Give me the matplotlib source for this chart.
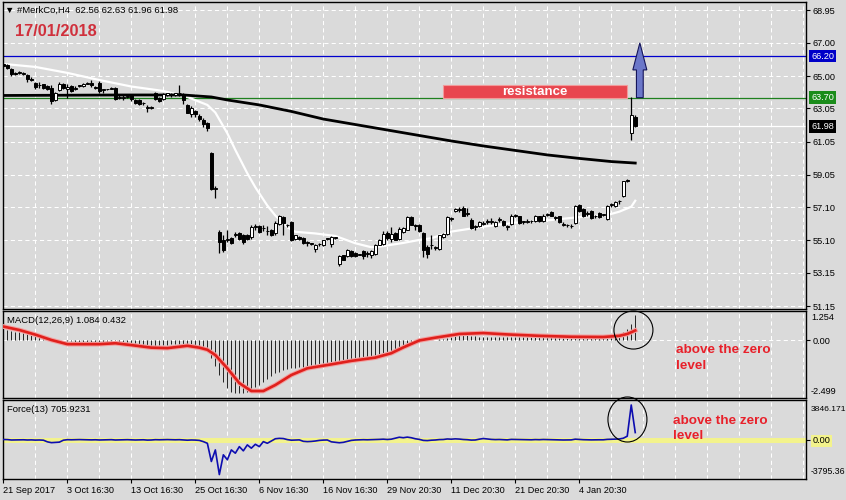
import matplotlib.pyplot as plt
import matplotlib.transforms as mtransforms
from matplotlib.patches import Rectangle, Polygon, Ellipse

plt.rcParams['font.family'] = ['Liberation Sans', 'DejaVu Sans']

W, H = 846, 500
BG = '#DADADA'

# H4 candles, oldest first
opens = [65.72, 65.65, 65.45, 65.20, 65.20, 65.15, 65.05, 64.85, 64.60, 64.45,
         64.50, 64.40, 64.30, 63.55, 64.15, 64.55, 64.20, 64.40, 64.25, 64.40,
         64.40, 64.55, 64.60, 64.35, 64.60, 64.15, 64.20, 64.25, 64.30, 63.70,
         63.70, 63.75, 63.85, 63.55, 63.55, 63.35, 63.10, 63.10, 63.95, 63.70,
         63.60, 63.85, 63.90, 63.85, 63.95, 63.90, 63.25, 62.70, 62.90, 62.60,
         62.35, 62.15, 60.37, 58.20, 55.63, 55.10, 55.10, 55.23, 55.45, 55.53,
         55.43, 55.43, 55.30, 55.90, 55.97, 55.83, 55.65, 55.73, 55.53, 56.10,
         56.53, 56.00, 56.20, 55.20, 55.30, 55.25, 54.95, 54.90, 54.60, 54.87,
         54.85, 55.20, 54.90, 55.25, 53.70, 54.20, 54.15, 54.45, 54.35, 54.25,
         54.45, 54.30, 54.20, 54.30, 54.85, 54.90, 55.55, 55.20, 55.55, 55.20,
         55.60, 55.75, 56.50, 56.05, 56.00, 55.55, 54.70, 54.80, 54.65, 54.60,
         55.30, 55.50, 56.40, 56.85, 56.95, 57.05, 56.70, 56.35, 55.90, 55.95,
         56.10, 56.20, 56.20, 55.95, 56.35, 56.30, 55.90, 56.10, 56.60, 56.55,
         56.20, 56.20, 56.25, 56.25, 56.55, 56.25, 56.65, 56.80, 56.45, 56.55,
         56.05, 56.00, 55.95, 56.15, 57.25, 57.00, 56.70, 56.85, 56.55, 56.75,
         56.65, 56.40, 57.25, 57.20, 57.45, 57.75, 58.70, 61.60, 62.56]
highs = [65.80, 65.72, 65.50, 65.25, 65.30, 65.22, 65.15, 64.92, 64.65, 64.65,
         64.55, 64.45, 64.46, 64.05, 64.65, 64.60, 64.50, 64.45, 64.40, 64.45,
         64.60, 64.65, 64.75, 64.40, 64.70, 64.25, 64.25, 64.35, 64.35, 63.90,
         63.90, 63.85, 63.90, 63.60, 63.60, 63.45, 63.25, 63.20, 64.05, 63.75,
         63.95, 64.00, 64.00, 64.00, 64.46, 64.00, 63.30, 63.20, 62.95, 62.70,
         62.50, 62.25, 60.40, 58.35, 55.70, 55.43, 55.73, 55.30, 55.60, 55.60,
         55.50, 55.50, 56.05, 56.10, 56.05, 56.00, 55.95, 55.80, 56.25, 56.65,
         56.60, 56.10, 56.25, 55.45, 55.35, 55.30, 55.08, 54.95, 54.90, 54.95,
         55.15, 55.25, 55.35, 55.30, 54.25, 54.25, 54.60, 54.50, 54.40, 54.30,
         54.55, 54.45, 54.50, 54.90, 55.20, 55.65, 55.65, 55.90, 55.60, 55.90,
         55.90, 56.55, 56.55, 56.10, 56.10, 55.60, 54.85, 55.40, 54.75, 55.45,
         55.55, 56.55, 56.50, 57.05, 57.10, 57.20, 57.05, 56.45, 56.00, 56.30,
         56.25, 56.40, 56.45, 56.30, 56.50, 56.35, 56.00, 56.70, 56.70, 56.60,
         56.30, 56.40, 56.35, 56.65, 56.60, 56.70, 56.75, 56.90, 56.55, 56.60,
         56.20, 56.10, 56.10, 57.25, 57.30, 57.05, 56.85, 56.95, 56.65, 56.80,
         56.72, 57.25, 57.35, 57.45, 57.55, 58.70, 58.80, 63.76, 62.63]
lows = [65.55, 65.45, 65.00, 65.05, 65.10, 65.08, 64.65, 64.70, 64.25, 64.30,
        64.20, 64.15, 63.30, 63.50, 64.10, 64.25, 63.70, 64.05, 64.15, 64.35,
        64.35, 64.50, 64.35, 64.25, 64.00, 64.00, 64.15, 64.20, 63.55, 63.60,
        63.55, 63.70, 63.50, 63.30, 63.25, 63.25, 62.85, 63.00, 63.55, 63.45,
        63.55, 63.80, 63.75, 63.80, 63.80, 63.30, 62.75, 62.55, 62.55, 62.30,
        61.95, 61.70, 58.15, 57.65, 54.32, 54.42, 55.03, 54.90, 55.30, 55.10,
        54.90, 55.10, 55.20, 55.75, 55.55, 55.65, 55.45, 55.35, 55.40, 56.05,
        55.45, 55.90, 55.05, 55.15, 55.10, 54.90, 54.75, 54.85, 54.40, 54.75,
        54.75, 55.10, 54.70, 55.20, 53.55, 53.90, 54.10, 54.10, 54.10, 54.20,
        54.00, 54.10, 54.05, 54.25, 54.80, 54.85, 55.15, 55.00, 55.10, 55.10,
        55.55, 55.70, 56.00, 55.75, 55.60, 54.12, 54.05, 54.60, 54.55, 54.55,
        55.25, 55.45, 56.30, 56.80, 56.80, 56.55, 56.55, 55.80, 55.75, 55.90,
        56.00, 56.10, 56.10, 55.90, 56.20, 55.95, 55.75, 56.05, 56.50, 56.10,
        56.10, 56.15, 56.15, 56.20, 56.20, 56.20, 56.55, 56.55, 56.35, 56.15,
        55.95, 55.90, 55.85, 56.10, 56.80, 56.50, 56.55, 56.40, 56.45, 56.45,
        56.58, 56.35, 57.10, 57.10, 57.30, 57.70, 58.60, 61.15, 61.96]
closes = [65.60, 65.50, 65.15, 65.10, 65.20, 65.15, 64.80, 64.75, 64.35, 64.45,
          64.30, 64.20, 63.50, 64.00, 64.55, 64.30, 64.35, 64.10, 64.30, 64.40,
          64.50, 64.55, 64.45, 64.30, 64.10, 64.20, 64.20, 64.30, 63.60, 63.70,
          63.75, 63.75, 63.60, 63.40, 63.30, 63.35, 63.10, 63.10, 63.60, 63.50,
          63.90, 63.95, 63.85, 63.95, 63.95, 63.55, 62.80, 63.10, 62.70, 62.40,
          62.10, 61.85, 58.20, 58.20, 55.03, 54.52, 55.17, 54.97, 55.47, 55.17,
          55.03, 55.17, 55.93, 55.90, 55.63, 55.83, 55.65, 55.45, 56.17, 56.57,
          56.13, 56.00, 55.13, 55.40, 55.20, 54.97, 54.95, 54.90, 54.85, 54.87,
          55.10, 55.20, 55.30, 55.25, 54.15, 53.95, 54.50, 54.15, 54.15, 54.25,
          54.15, 54.30, 54.45, 54.80, 55.10, 55.50, 55.25, 55.50, 55.15, 55.80,
          55.85, 56.50, 56.05, 55.95, 55.65, 54.50, 54.30, 54.85, 54.65, 55.40,
          55.50, 56.50, 56.40, 57.00, 56.95, 56.60, 56.75, 55.85, 55.90, 56.20,
          56.10, 56.30, 56.20, 56.20, 56.35, 56.00, 55.90, 56.60, 56.60, 56.15,
          56.20, 56.30, 56.25, 56.55, 56.25, 56.60, 56.65, 56.60, 56.45, 56.20,
          56.05, 56.00, 55.95, 57.20, 56.85, 56.55, 56.70, 56.45, 56.55, 56.50,
          56.65, 57.20, 57.25, 57.40, 57.45, 58.65, 58.70, 62.65, 61.98]

# moving averages (bar index, price)
fast_bars = [0, 8, 16, 24, 32, 40, 46, 49, 51, 53, 56, 58, 61, 63, 66, 68, 71, 73, 78, 83,
             88, 92, 95, 100, 104, 107, 112, 120, 128, 137, 145, 151, 154, 157, 158]
fast_vals = [65.73, 65.55, 65.19, 64.76, 64.37, 64.10, 63.74, 63.45, 63.26, 62.80,
             61.55, 60.55, 59.14, 58.30, 57.20, 56.60, 55.90, 55.62, 55.52, 55.37,
             54.93, 54.69, 54.76, 54.95, 55.13, 55.23, 55.63, 55.93, 56.17, 56.33,
             56.53, 56.63, 56.83, 57.13, 57.49]
slow_bars = [0, 30, 45, 52, 56, 64, 72, 80, 88, 96, 104, 112, 120, 128, 136, 144, 152, 158]
slow_vals = [63.83, 63.86, 63.86, 63.74, 63.56, 63.26, 62.87, 62.41, 62.08, 61.75,
             61.42, 61.09, 60.79, 60.52, 60.25, 60.04, 59.85, 59.76]

# MACD(12,26,9) histogram per bar and signal line
macd_hist = [0.50, 0.45, 0.42, 0.38, 0.35, 0.32, 0.28, 0.25, 0.22, 0.18,
             0.15, 0.12, 0.08, 0.05, 0.03, 0.00, -0.02, -0.04, -0.05, -0.05,
             -0.05, -0.05, -0.05, -0.06, -0.06, -0.06, -0.06, -0.06, -0.08, -0.10,
             -0.12, -0.13, -0.14, -0.16, -0.18, -0.20, -0.22, -0.24, -0.22, -0.21,
             -0.20, -0.18, -0.17, -0.16, -0.14, -0.15, -0.18, -0.20, -0.22, -0.25,
             -0.30, -0.45, -0.75, -1.10, -1.48, -1.80, -2.05, -2.20, -2.25, -2.27,
             -2.25, -2.20, -2.12, -2.00, -1.90, -1.80, -1.65, -1.52, -1.42, -1.35,
             -1.28, -1.24, -1.20, -1.17, -1.15, -1.14, -1.13, -1.12, -1.10, -1.08,
             -1.07, -1.06, -1.04, -1.02, -1.00, -0.97, -0.94, -0.91, -0.88, -0.84,
             -0.80, -0.77, -0.72, -0.66, -0.60, -0.55, -0.50, -0.47, -0.44, -0.40,
             -0.33, -0.25, -0.18, -0.12, -0.06, -0.03, 0.00, 0.02, 0.04, 0.06,
             0.08, 0.12, 0.16, 0.20, 0.22, 0.22, 0.22, 0.20, 0.18, 0.17,
             0.16, 0.16, 0.16, 0.15, 0.16, 0.15, 0.14, 0.15, 0.16, 0.16,
             0.16, 0.16, 0.16, 0.17, 0.17, 0.18, 0.18, 0.19, 0.18, 0.17,
             0.15, 0.14, 0.13, 0.16, 0.18, 0.18, 0.18, 0.17, 0.17, 0.17,
             0.17, 0.20, 0.23, 0.26, 0.30, 0.38, 0.50, 0.70, 1.084]
signal_bars = [0, 4, 8, 12, 16, 24, 28, 32, 37, 41, 46, 49, 51, 53, 56, 59, 62, 65, 68, 72,
               76, 82, 87, 93, 97, 100, 104, 108, 114, 120, 126, 134, 142, 150, 154, 156, 158]
signal_vals = [0.60, 0.45, 0.25, 0.02, -0.16, -0.16, -0.12, -0.20, -0.31, -0.33,
               -0.23, -0.31, -0.40, -0.63, -1.20, -1.84, -2.18, -2.18, -1.92, -1.49,
               -1.20, -1.03, -0.88, -0.74, -0.55, -0.30, 0.00, 0.12, 0.28, 0.32,
               0.26, 0.20, 0.16, 0.15, 0.20, 0.28, 0.43]

# Force(13) per bar
force_vals = [30, 20, -20, -10, 0, 0, -20, -10, -30, -20,
              -40, -200, -280, -260, -230, -40, 10, 0, 10, 20,
              10, 0, -10, 0, -20, -10, 0, 10, -20, -10,
              0, 10, -10, -20, -10, 0, -30, -20, 10, 0,
              10, 20, 10, 0, 10, -10, -40, -20, -30, -60,
              -180, -340, -2120, -990, -3400, -1470, -1950, -990, -1310, -670,
              -1080, -500, -820, -440, -670, -180, -340, -115, 100, 140,
              120, 20, -40, -20, -10, -150, -180, -160, -120, -60,
              -30, -20, -200, -250, -290, -250, -150, -60, -20, 0,
              10, 0, 10, 20, 40, 60, 30, 60, 150, 250,
              200, 260, 200, 100, 40, -60, -80, -40, -20, 20,
              30, 80, 60, 90, 70, 30, 10, -30, -20, 60,
              120, 80, 40, 20, 30, 10, -10, 40, 30, 10,
              0, 10, 0, 20, 10, 30, 20, 10, 0, -10,
              -20, -10, -10, 60, 30, 10, 0, -10, 0, 0,
              0, 40, 50, 60, 80, 150, 350, 3400, 706]

price_ticks = [68.95, 67.00, 65.00, 63.05, 61.05, 59.05, 57.10, 55.10, 53.15, 51.15]
date_ticks = [0, 16, 32, 48, 64, 80, 96, 112, 128, 144]
date_labels = ['21 Sep 2017', '3 Oct 16:30', '13 Oct 16:30', '25 Oct 16:30', '6 Nov 16:30',
               '16 Nov 16:30', '29 Nov 20:30', '11 Dec 20:30', '21 Dec 20:30', '4 Jan 20:30']

target = 66.20
resistance = 63.70
last_price = 61.98


def px_axes(fig, left, top, right, bottom):
    return fig.add_axes([left / W, 1 - bottom / H, (right - left) / W, (bottom - top) / H])


def style(ax):
    ax.set_facecolor(BG)
    ax.set_xlim(-0.1, 200.7)
    for s in ax.spines.values():
        s.set_linewidth(1.0)
        s.set_color('black')
    ax.tick_params(axis='both', left=False, labelleft=False, bottom=False, labelbottom=False,
                   right=True, labelright=True, length=3, width=0.8, pad=1.5, labelsize=6.6)
    # dashed white grid every 8 bars
    for b in range(8, 201, 8):
        ax.axvline(b, color='white', lw=0.75, ls=(0, (4, 3)), zorder=0)


def side_label(ax, yfrac, text, size=6.6):
    ax.text(1 + 5 / 803, yfrac, text, transform=ax.transAxes, fontsize=size,
            va='center', ha='left', clip_on=False)


fig = plt.figure(figsize=(W / 100, H / 100), dpi=100)
fig.patch.set_facecolor(BG)

# ---------------- price panel ----------------
ax = px_axes(fig, 3, 2, 806, 309)
style(ax)
ax.set_ylim(50.97, 69.46)
for v in price_ticks:
    ax.axhline(v, color='white', lw=0.75, ls=(0, (4, 3)), zorder=0)
ax.set_yticks(price_ticks)
ax.set_yticklabels(['%.2f' % v for v in price_ticks])

ax.axhline(target, color='#0000CD', lw=0.9, zorder=1)
ax.axhline(resistance, color='#1E801E', lw=0.9, zorder=1)
ax.axhline(last_price, color='white', lw=0.9, zorder=1)

ax.plot(fast_bars, fast_vals, color='white', lw=1.6, zorder=2)
ax.plot(slow_bars, slow_vals, color='black', lw=2.0, zorder=2)

idx = list(range(len(closes)))
bottoms = [min(o, c) for o, c in zip(opens, closes)]
heights = [max(abs(c - o), 0.04) for o, c in zip(opens, closes)]
faces = ['white' if c >= o else 'black' for o, c in zip(opens, closes)]
ax.vlines(idx, lows, highs, color='black', lw=0.9, zorder=3)
ax.bar(idx, heights, bottom=bottoms, width=0.72, color=faces, edgecolor='black',
       linewidth=0.7, zorder=4)

# resistance box and arrow
ax.add_patch(Rectangle((110, resistance), 46, 0.76, fc='#E8464E', ec='#F29A9A', lw=0.8, zorder=5))
ax.text(133, resistance + 0.36, 'resistance', color='white', fontsize=9.5, fontweight='bold',
        ha='center', va='center', zorder=6)
arrow = [(158.3, resistance), (160.0, resistance), (160.0, 65.37), (160.9, 65.37),
         (159.15, 67.0), (157.4, 65.37), (158.3, 65.37)]
ax.add_patch(Polygon(arrow, closed=True, fc='#6B77C9', ec='#15155A', lw=0.8, zorder=6))

trans = mtransforms.blended_transform_factory(ax.transAxes, ax.transData)
for val, col in [(target, '#0000C8'), (resistance, '#1A8C1A'), (last_price, 'black')]:
    ax.text(1 + 5 / 803, val, '%.2f' % val, transform=trans, color='white', fontsize=6.6,
            va='center', ha='left', clip_on=False,
            bbox=dict(boxstyle='square,pad=0.2', fc=col, ec='none'))

# ---------------- MACD panel ----------------
ax2 = px_axes(fig, 3, 311, 806, 398)
style(ax2)
ax2.set_ylim(-2.48, 1.27)
ax2.axhline(0, color='white', lw=0.75, ls=(0, (4, 3)), zorder=0)
ax2.set_yticks([0])
ax2.set_yticklabels(['0.00'])
ax2.vlines(idx, 0, macd_hist, color='#222222', lw=0.7, zorder=2)
ax2.plot(signal_bars, signal_vals, color='#F2A0A0', lw=3.4, zorder=3)
ax2.plot(signal_bars, signal_vals, color='#E0201C', lw=1.9, zorder=4)
side_label(ax2, 0.92, '1.254')
side_label(ax2, 0.072, '-2.499')
ax2.add_patch(Ellipse((157.55, 0.45), 9.75, 1.64, fill=False, ec='black', lw=0.8,
                      clip_on=False, zorder=6))

# ---------------- Force panel ----------------
ax3 = px_axes(fig, 3, 400, 806, 479)
style(ax3)
ax3.set_ylim(-3832, 3888)
ax3.axhline(0, color='#F3F38C', lw=3.6, zorder=1)
ax3.plot(idx, force_vals, color='#0D0DB0', lw=1.2, zorder=3)
ax3.set_yticks([0])
ax3.set_yticklabels(['0.00'])
ax3.get_yticklabels()[0].set_bbox(dict(boxstyle='square,pad=0.15', fc='#F3F38C', ec='none'))
side_label(ax3, 0.886, '3846.171', size=6.1)
side_label(ax3, 0.101, '-3795.36', size=6.3)
ax3.add_patch(Ellipse((156.05, 1983), 9.75, 4400, fill=False, ec='black', lw=0.8,
                      clip_on=False, zorder=6))

ax3.set_xticks(date_ticks)
ax3.set_xticklabels(date_labels, ha='left')
ax3.tick_params(axis='x', bottom=True, labelbottom=True, length=3, width=0.8, pad=2, labelsize=6.6)

# ---------------- texts ----------------
fig.text(5 / W, 1 - 10 / H, '\u25bc #MerkCo,H4  62.56 62.63 61.96 61.98', fontsize=6.8, va='center')
fig.text(15 / W, 1 - 31.5 / H, '17/01/2018', color='#D0303C', fontsize=11.8,
         fontweight='bold', va='center')
fig.text(7 / W, 1 - 320.5 / H, 'MACD(12,26,9) 1.084 0.432', fontsize=6.8, va='center')
fig.text(7 / W, 1 - 410 / H, 'Force(13) 705.9231', fontsize=6.8, va='center')
fig.text(676 / W, 1 - 358 / H, 'above the zero\nlevel', color='#E8202A', fontsize=9.7,
         fontweight='bold', va='center', linespacing=1.45)
fig.text(673 / W, 1 - 428.5 / H, 'above the zero\nlevel', color='#E8202A', fontsize=9.7,
         fontweight='bold', va='center', linespacing=1.35)

fig.savefig('out.png', dpi=100, facecolor=BG)
